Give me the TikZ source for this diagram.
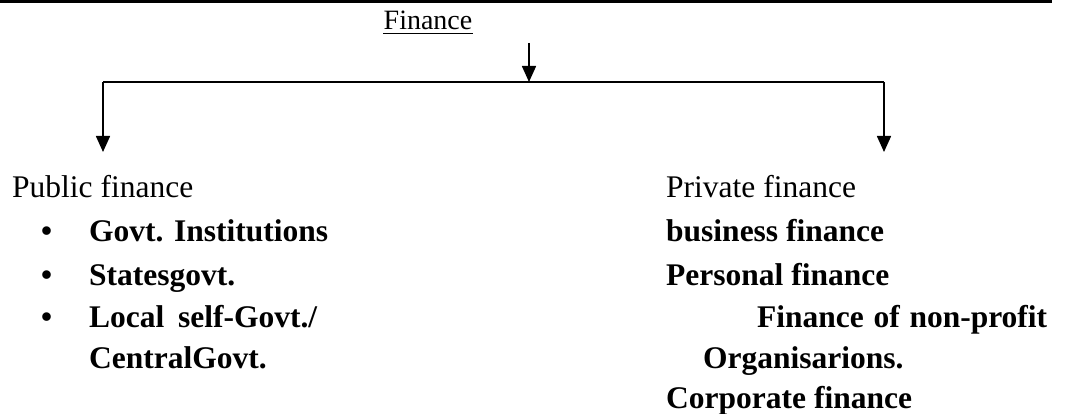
\documentclass[tikz,border=0pt]{standalone}
\usepackage{fontspec}
\setmainfont{Liberation Serif}
\usetikzlibrary{arrows.meta}
\begin{document}
\begin{tikzpicture}[x=1pt,y=-1pt,
  txt/.style={anchor=base west,inner sep=0pt,font=\fontsize{31.5}{36}\selectfont},
  btxt/.style={anchor=base west,inner sep=0pt,font=\fontsize{31.5}{36}\selectfont\bfseries},
  ttl/.style={anchor=base,inner sep=0pt,font=\fontsize{28}{32}\selectfont},
  conn/.style={line width=1.6pt,-{Triangle[width=14pt,length=16pt]}},
  ln/.style={line width=1.6pt},
  ul/.style={line width=1.4pt}]
\useasboundingbox (0,0) rectangle (1066,414);
\fill (0,0) rectangle (1052,3);
% title
\node[ttl] (fin) at (428,30) {Finance};
\draw[ul] ([yshift=-3.5pt]fin.base west) -- ([yshift=-3.5pt]fin.base east);
% connectors
\coordinate (s) at (529,43);
\coordinate (j) at (529,82);
\coordinate (lc) at (103,82);
\coordinate (rc) at (884,82);
\coordinate (lt) at (103,152);
\coordinate (rt) at (884,152);
\draw[conn] (s) -- (j);
\draw[ln] (lc) -- (rc);
\draw[conn] (lc) -- (lt);
\draw[conn] (rc) -- (rt);
% left column
\node[txt] (pub) at (12,198) {Public finance};
\node[btxt] (b1) at (41,242) {•};
\node[btxt] (b2) at (41,285) {•};
\node[btxt] (b3) at (41,327) {•};
\node[btxt] (l1) at (89,242) {Govt. Institutions};
\node[btxt] (l2) at (89,285) {Statesgovt.};
\node[btxt] (l3) at (89,327) {\makebox[228pt][s]{Local self-Govt./}};
\node[btxt] (l4) at (89,368) {CentralGovt.};
% right column
\node[txt] (pri) at (666,198) {Private finance};
\node[btxt] (r1) at (666,242) {business finance};
\node[btxt] (r2) at (666,285) {Personal finance};
\node[btxt] (r3) at (757,327) {\makebox[290pt][s]{Finance of non-profit}};
\node[btxt] (r4) at (703,368) {Organisarions.};
\node[btxt] (r5) at (666,408) {Corporate finance};
\end{tikzpicture}
\end{document}
